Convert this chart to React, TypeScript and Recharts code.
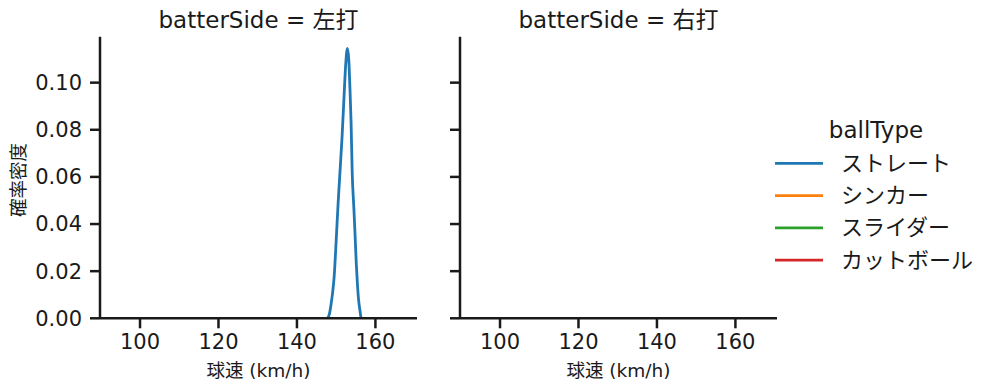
import React from "react";
import { LineChart, Line, XAxis, YAxis } from "recharts";

// KDE of pitch speed (km/h)
const speeds = [147.8, 148.3, 148.7, 149.1, 149.5, 150.0, 150.5, 151.0, 151.5, 152.0, 152.4, 152.85, 153.2, 153.5, 153.8, 154.1, 154.5, 154.8, 155.1, 155.4, 155.7, 156.0, 156.3];
const straightDensity = [0, 0.002, 0.006, 0.011, 0.018, 0.033, 0.049, 0.063, 0.077, 0.094, 0.107, 0.1145, 0.11, 0.098, 0.083, 0.061, 0.047, 0.036, 0.024, 0.015, 0.008, 0.004, 0.0005];

const ballTypes = ["ストレート", "シンカー", "スライダー", "カットボール"];
const ballColors = ["#1f77b4", "#ff7f0e", "#2ca02c", "#d62728"];
const batterSides = ["左打", "右打"];
const xTicks = [100, 120, 140, 160];
const yTicks = [0, 0.02, 0.04, 0.06, 0.08, 0.1];
const xDomain = [89.8, 170.6];
const yDomain = [0, 0.1195];

const leftData = speeds.map((s, i) => ({ speed: s, ストレート: straightDensity[i] }));
const rightData: { speed: number }[] = [];

const INK = "#1a1a1a";
const FONT = '"DejaVu Sans", "Noto Sans CJK JP", sans-serif';

const tickStyle = { fill: INK, fontSize: 21, fontFamily: FONT };

interface PanelProps {
  data: any[];
  showYLabels: boolean;
  left: number;
}

const Panel: React.FC<PanelProps> = ({ data, showYLabels, left }) => (
  <div style={{ position: "absolute", left, top: 0 }}>
    <LineChart
      width={430}
      height={391}
      data={data}
      margin={{ top: 36.7, right: 13, bottom: 0, left: 0 }}
    >
      <XAxis
        dataKey="speed"
        type="number"
        domain={xDomain}
        ticks={xTicks}
        allowDataOverflow
        height={72.7}
        stroke={INK}
        strokeWidth={2.5}
        tickSize={10}
        tickMargin={6}
        tick={tickStyle}
      />
      <YAxis
        type="number"
        domain={yDomain}
        ticks={yTicks}
        allowDataOverflow
        width={100}
        stroke={INK}
        strokeWidth={2.5}
        tickSize={10}
        tickMargin={8}
        tick={tickStyle}
        tickFormatter={(v: number) => (showYLabels ? v.toFixed(2) : "")}
      />
      {data.length > 0 &&
        ballTypes.map((b, i) =>
          data[0][b] !== undefined ? (
            <Line
              key={b}
              type="monotone"
              dataKey={b}
              stroke={ballColors[i]}
              strokeWidth={2.8}
              dot={false}
              isAnimationActive={false}
            />
          ) : null
        )}
    </LineChart>
  </div>
);

export default function App() {
  return (
    <div
      style={{
        position: "absolute",
        left: 0,
        top: 0,
        width: 997,
        height: 391,
        background: "#fff",
        fontFamily: FONT,
      }}
    >
      <Panel data={leftData} showYLabels left={0} />
      <Panel data={rightData} showYLabels={false} left={360} />

      {/* titles, axis labels and legend */}
      <svg
        width={997}
        height={391}
        style={{ position: "absolute", left: 0, top: 0, pointerEvents: "none" }}
        fontFamily={FONT}
        fill={INK}
      >
        {batterSides.map((s, i) => (
          <g key={s}>
            <text x={258.5 + i * 360} y={28} fontSize={23} textAnchor="middle">
              {`batterSide = ${s}`}
            </text>
            <text x={258.5 + i * 360} y={377} fontSize={18.5} textAnchor="middle">
              球速 (km/h)
            </text>
          </g>
        ))}
        <text
          x={18}
          y={180}
          fontSize={18.5}
          textAnchor="middle"
          dominantBaseline="central"
          transform="rotate(-90 18 180)"
        >
          確率密度
        </text>

        <text x={876} y={138} fontSize={23} textAnchor="middle">
          ballType
        </text>
        {ballTypes.map((b, i) => (
          <g key={b}>
            <line
              x1={775}
              x2={823}
              y1={163.3 + i * 32.3}
              y2={163.3 + i * 32.3}
              stroke={ballColors[i]}
              strokeWidth={2.8}
            />
            <text x={841} y={163.3 + i * 32.3} fontSize={22} dominantBaseline="central">
              {b}
            </text>
          </g>
        ))}
      </svg>
    </div>
  );
}
